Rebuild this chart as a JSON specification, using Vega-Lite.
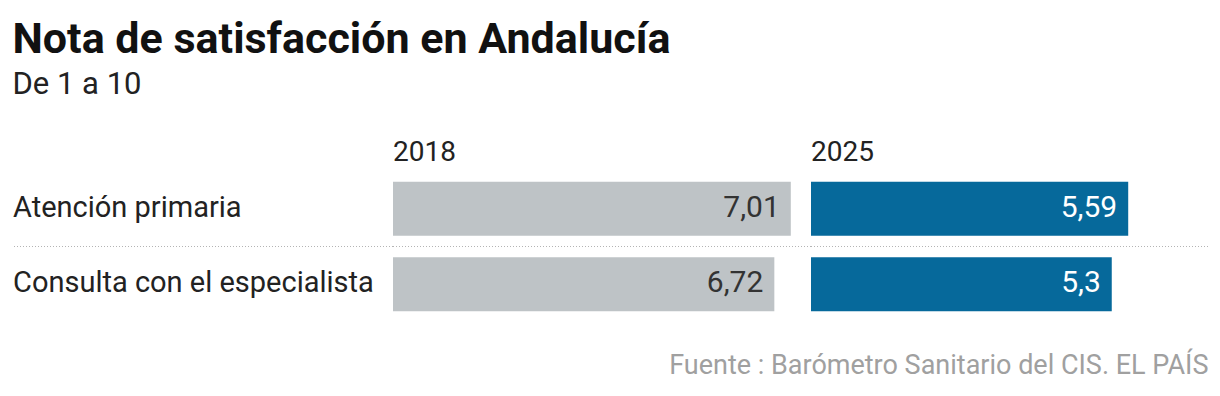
{
  "$schema": "https://vega.github.io/schema/vega-lite/v6.json",
  "padding": {"top": 19, "left": 12, "right": 13, "bottom": 10},
  "background": "white",
  "bounds": "flush",
  "spacing": 0,
  "title": {
    "text": "Nota de satisfacción en Andalucía",
    "subtitle": "De 1 a 10",
    "anchor": "start",
    "font": "Roboto",
    "fontSize": 43,
    "fontWeight": "bold",
    "color": "#111111",
    "subtitleFont": "Roboto",
    "subtitleFontSize": 31,
    "subtitleColor": "#222222",
    "subtitlePadding": 8,
    "offset": 39
  },
  "config": {
    "view": {"stroke": null},
    "font": "Roboto",
    "locale": {
      "number": {"decimal": ",", "thousands": ".", "grouping": [3], "currency": ["", " €"]}
    }
  },
  "datasets": {
    "notas": [
      {"categoria": "Atención primaria", "year": 2018, "nota": 7.01},
      {"categoria": "Consulta con el especialista", "year": 2018, "nota": 6.72},
      {"categoria": "Atención primaria", "year": 2025, "nota": 5.59},
      {"categoria": "Consulta con el especialista", "year": 2025, "nota": 5.3}
    ]
  },
  "hconcat": [
    {
      "width": 380,
      "height": 151,
      "data": {"name": "notas"},
      "transform": [{"filter": "datum.year == 2018"}],
      "layer": [
        {
          "mark": {"type": "text", "align": "left", "baseline": "alphabetic", "dy": 8, "fontSize": 29, "color": "#222222", "font": "Roboto"},
          "encoding": {
            "y": {"field": "categoria", "type": "nominal", "sort": null, "scale": {"domain": ["Atención primaria", "Consulta con el especialista"], "paddingInner": 0, "paddingOuter": 0}, "axis": null},
            "x": {"datum": 0, "type": "quantitative", "scale": {"domain": [0, 1]}, "axis": null},
            "text": {"field": "categoria", "type": "nominal"}
          }
        },
        {
          "transform": [{"filter": "datum.categoria == 'Consulta con el especialista'"}],
          "mark": {"type": "rule", "color": "#b4b4b4", "strokeDash": [1, 2], "strokeWidth": 1},
          "encoding": {
            "y": {"field": "categoria", "type": "nominal", "bandPosition": 0, "axis": null}
          }
        }
      ]
    },
    {
      "width": 418,
      "height": 151,
      "title": {"text": "2018", "anchor": "start", "frame": "group", "font": "Roboto", "fontSize": 28, "fontWeight": "normal", "color": "#222222", "offset": 4},
      "data": {"name": "notas"},
      "transform": [{"filter": "datum.year == 2018"}],
      "layer": [
        {
          "mark": {"type": "bar", "color": "#bec3c6", "height": {"band": 0.715}},
          "encoding": {
            "y": {"field": "categoria", "type": "nominal", "sort": null, "scale": {"domain": ["Atención primaria", "Consulta con el especialista"], "paddingInner": 0, "paddingOuter": 0}, "axis": null},
            "x": {"field": "nota", "type": "quantitative", "scale": {"domain": [0, 7.366], "nice": false}, "axis": null}
          }
        },
        {
          "mark": {"type": "text", "align": "right", "baseline": "alphabetic", "dx": -11, "dy": 8, "fontSize": 30, "color": "#333333", "font": "Roboto"},
          "encoding": {
            "y": {"field": "categoria", "type": "nominal", "axis": null},
            "x": {"field": "nota", "type": "quantitative", "axis": null},
            "text": {"field": "nota", "type": "quantitative", "format": ".3~r"}
          }
        },
        {
          "transform": [{"filter": "datum.categoria == 'Consulta con el especialista'"}],
          "mark": {"type": "rule", "color": "#b4b4b4", "strokeDash": [1, 2], "strokeWidth": 1},
          "encoding": {
            "y": {"field": "categoria", "type": "nominal", "bandPosition": 0, "axis": null}
          }
        }
      ]
    },
    {
      "width": 397,
      "height": 151,
      "title": {"text": "2025", "anchor": "start", "frame": "group", "font": "Roboto", "fontSize": 28, "fontWeight": "normal", "color": "#222222", "offset": 4},
      "data": {"name": "notas"},
      "transform": [{"filter": "datum.year == 2025"}],
      "encoding": {
        "y": {"field": "categoria", "type": "nominal", "sort": null, "scale": {"domain": ["Atención primaria", "Consulta con el especialista"], "paddingInner": 0, "paddingOuter": 0}, "axis": null},
        "x": {
          "field": "nota", "type": "quantitative",
          "scale": {"domain": [0, 6.996], "nice": false},
          "axis": {
            "labels": false, "ticks": false, "domain": false, "grid": false,
            "title": "Fuente : Barómetro Sanitario del CIS. EL PAÍS",
            "titleAnchor": "end", "titleFont": "Roboto", "titleFontSize": 27,
            "titleFontWeight": "normal", "titleColor": "#a0a0a0", "titlePadding": 30
          }
        }
      },
      "layer": [
        {
          "mark": {"type": "bar", "color": "#06699b", "height": {"band": 0.715}}
        },
        {
          "mark": {"type": "text", "align": "right", "baseline": "alphabetic", "dx": -11, "dy": 8, "fontSize": 30, "color": "#ffffff", "font": "Roboto"},
          "encoding": {
            "text": {"field": "nota", "type": "quantitative", "format": ".3~r"}
          }
        },
        {
          "transform": [{"filter": "datum.categoria == 'Consulta con el especialista'"}],
          "mark": {"type": "rule", "color": "#b4b4b4", "strokeDash": [1, 2], "strokeWidth": 1},
          "encoding": {
            "x": null,
            "y": {"field": "categoria", "type": "nominal", "bandPosition": 0, "axis": null}
          }
        }
      ]
    }
  ]
}
